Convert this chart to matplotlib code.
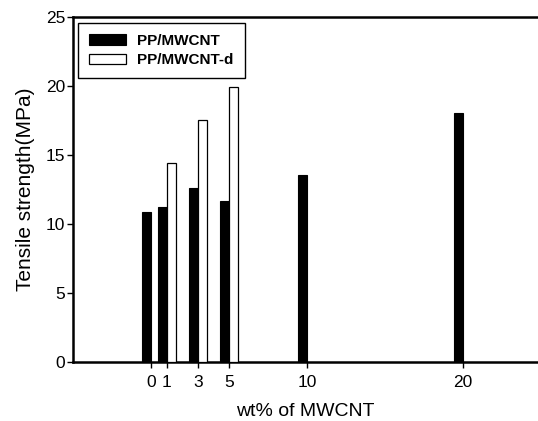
import matplotlib
matplotlib.use("Agg")
import matplotlib.pyplot as plt
from matplotlib.patches import Patch

plt.rcParams['font.family'] = ['Liberation Sans', 'DejaVu Sans']

# Data
loadings = [0, 1, 3, 5, 10, 20]
pp_mwcnt = [10.9, 11.2, 12.6, 11.7, 13.55, 18.05]
loadings_d = [1, 3, 5]
pp_mwcnt_d = [14.4, 17.55, 19.95]
xtick_vals = [0, 1, 3, 5, 10, 20]
ytick_vals = [0, 5, 10, 15, 20, 25]

bar_w = 0.58

fig = plt.figure(figsize=(5.38, 4.21), dpi=100)
ax = fig.add_axes([0.1357, 0.1401, 0.8643, 0.8195])

ax.bar(loadings, pp_mwcnt, width=-bar_w, align='edge', color='black',
       edgecolor='black', linewidth=0.8, zorder=3)
ax.bar(loadings_d, pp_mwcnt_d, width=bar_w, align='edge', color='white',
       edgecolor='black', linewidth=0.9, zorder=3)

ax.set_xlim(-5.0, 24.8)
ax.set_ylim(0, 25)
ax.set_xticks(xtick_vals)
ax.set_xticklabels([str(v) for v in xtick_vals])
ax.set_yticks(ytick_vals)

for side in ['left', 'bottom', 'top']:
    ax.spines[side].set_linewidth(1.8)
ax.spines['right'].set_visible(False)

ax.tick_params(axis='both', direction='out', length=4, width=1.0,
               labelsize=12.5, pad=1.5)
ax.tick_params(axis='x', pad=5)

ax.set_xlabel('wt% of MWCNT', fontsize=14, labelpad=10)
ax.set_ylabel('Tensile strength(MPa)', fontsize=15, labelpad=8)

handles = [Patch(facecolor='black', edgecolor='black', linewidth=0.8),
           Patch(facecolor='white', edgecolor='black', linewidth=0.9)]
leg = ax.legend(handles, ['PP/MWCNT', 'PP/MWCNT-d'], loc='upper left',
                bbox_to_anchor=(0.0108, 0.9826), fancybox=False, framealpha=1,
                edgecolor='black', prop={'size': 11, 'weight': 'bold'},
                handlelength=2.45, handleheight=0.7, handletextpad=0.7,
                labelspacing=0.35, borderpad=0.72, borderaxespad=0.0)
leg.get_frame().set_linewidth(1.0)

fig.savefig('out.png', dpi=100)
